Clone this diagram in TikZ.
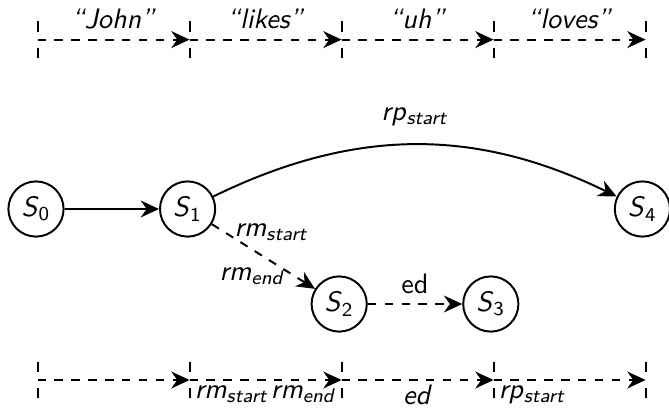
\documentclass[tikz,border=0pt]{standalone}
\usetikzlibrary{arrows.meta, positioning}
\newcommand{\vlab}[2]{\textit{#1}\textsubscript{\textit{#2}}}
\newcommand{\vst}[2]{\textit{#1}\textsubscript{#2}}

\begin{document}
\begin{tikzpicture}[
  font=\sffamily,
  state/.style={draw, circle, minimum size=0.69cm, inner sep=0pt, line width=0.7pt},
  trans/.style={-{Stealth[length=6.5pt, width=6pt]}, line width=0.7pt},
  seg/.style={trans, dashed},
  tick/.style={line width=0.7pt, dash pattern=on 0.13cm off 0.2cm on 0.13cm}
]
\useasboundingbox (0,0) rectangle (8.3625,-5.125);

\node[state] (s0) at (0.45,-2.6125) {\vst{S}{0}};
\node[state] (s1) at (2.345,-2.6125) {\vst{S}{1}};
\node[state] (s2) at (4.24,-3.8) {\vst{S}{2}};
\node[state] (s3) at (6.135,-3.8) {\vst{S}{3}};
\node[state] (s4) at (8.03,-2.6125) {\vst{S}{4}};

\draw[trans] (s0) -- (s1);
\draw[trans] (s1) to[bend left=26] node[above=3pt]{\vlab{rp}{start}} (s4);
\draw[seg] (s1) -- node[pos=0.12, right]{\vlab{rm}{start}} node[pos=0.81, left]{\vlab{rm}{end}} (s2);
\draw[seg] (s2) -- node[above]{ed} (s3);

\coordinate (t0) at (0.47,-0.495);
\coordinate (t1) at (2.37,-0.495);
\coordinate (t2) at (4.27,-0.495);
\coordinate (t3) at (6.17,-0.495);
\coordinate (t4) at (8.07,-0.495);

\draw[seg] (t0) -- node[above]{\textit{``John''}} (t1);
\draw[seg] (t1) -- node[above]{\textit{``likes''}} (t2);
\draw[seg] (t2) -- node[above]{\textit{``uh''}} (t3);
\draw[seg] (t3) -- node[above]{\textit{``loves''}} (t4);

\draw[tick] (t0) ++(0,0.23) -- ++(0,-0.46);
\draw[tick] (t1) ++(0,0.23) -- ++(0,-0.46);
\draw[tick] (t2) ++(0,0.23) -- ++(0,-0.46);
\draw[tick] (t3) ++(0,0.23) -- ++(0,-0.46);
\draw[tick] (t4) ++(0,0.23) -- ++(0,-0.46);

\coordinate (b0) at (0.47,-4.75);
\coordinate (b1) at (2.37,-4.75);
\coordinate (b2) at (4.27,-4.75);
\coordinate (b3) at (6.17,-4.75);
\coordinate (b4) at (8.07,-4.75);

\draw[seg] (b0) -- (b1);
\draw[seg] (b1) -- node[pos=0, below right, inner sep=1.5pt]{\vlab{rm}{start}}
  node[pos=1, below left, inner sep=1.5pt]{\vlab{rm}{end}} (b2);
\draw[seg] (b2) -- node[below, inner sep=1.5pt]{\textit{ed}} (b3);
\draw[seg] (b3) -- node[pos=0, below right, inner sep=1.5pt]{\vlab{rp}{start}} (b4);

\draw[tick] (b0) ++(0,0.23) -- ++(0,-0.46);
\draw[tick] (b1) ++(0,0.23) -- ++(0,-0.46);
\draw[tick] (b2) ++(0,0.23) -- ++(0,-0.46);
\draw[tick] (b3) ++(0,0.23) -- ++(0,-0.46);
\draw[tick] (b4) ++(0,0.23) -- ++(0,-0.46);
\end{tikzpicture}
\end{document}
